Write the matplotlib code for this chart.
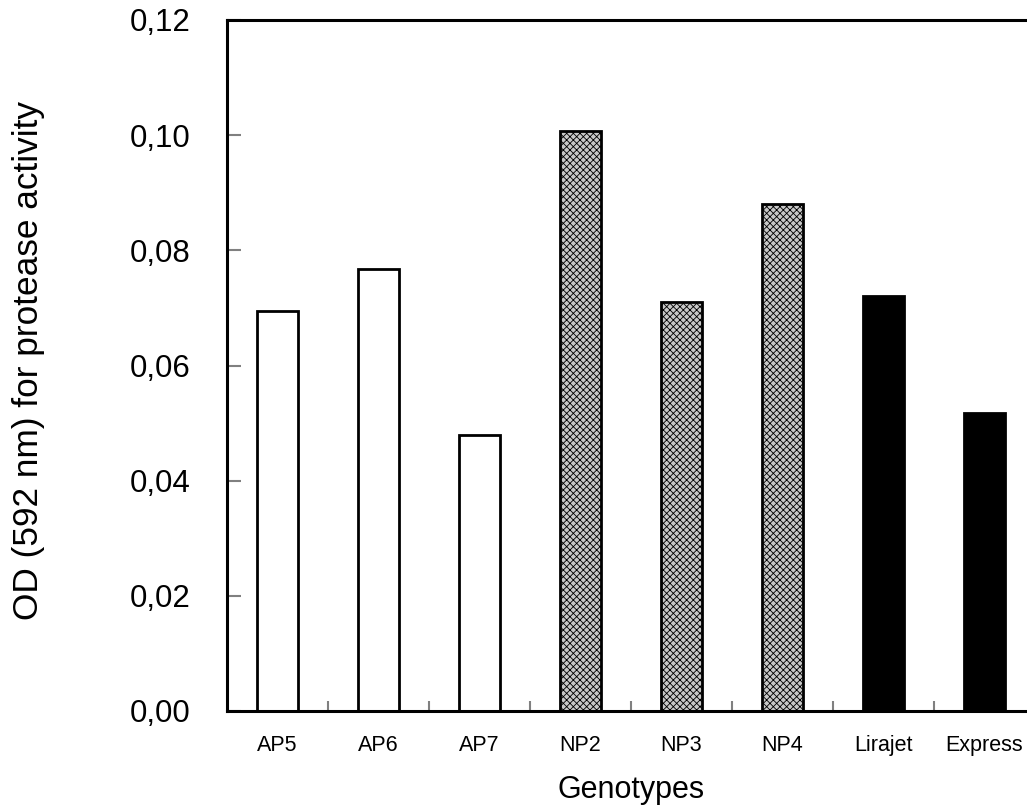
import matplotlib
matplotlib.use("Agg")
import matplotlib.pyplot as plt
from matplotlib.ticker import MultipleLocator, FixedLocator

plt.rcParams['font.family'] = ['Liberation Sans', 'DejaVu Sans']
plt.rcParams['hatch.linewidth'] = 0.6
plt.rcParams['hatch.color'] = '#505050'

genotypes = ["AP5", "AP6", "AP7", "NP2", "NP3", "NP4", "Lirajet", "Express"]
od_values = [0.0695, 0.0768, 0.0480, 0.1007, 0.0710, 0.0880, 0.0720, 0.0518]
groups = ["AP", "AP", "AP", "NP", "NP", "NP", "C", "C"]

group_style = {
    "AP": dict(facecolor="white", hatch=None),
    "NP": dict(facecolor="#c8c8c8", hatch="xxxxx"),
    "C": dict(facecolor="black", hatch=None),
}

fig = plt.figure(figsize=(10.27, 8.07), dpi=100)
ax = fig.add_axes([227 / 1027, 1 - 711 / 807, (1035 - 227) / 1027, (711 - 20) / 807])

x = list(range(len(genotypes)))
for xi, val, g in zip(x, od_values, groups):
    st = group_style[g]
    ax.bar(xi, val, width=0.4, facecolor=st["facecolor"], hatch=st["hatch"],
           edgecolor="black", linewidth=2)

ax.set_xlim(-0.5, len(genotypes) - 0.5)
ax.set_ylim(0, 0.12)

ax.yaxis.set_major_locator(MultipleLocator(0.02))
ax.set_yticklabels([f"{v:.2f}".replace(".", ",") for v in ax.get_yticks()])
ax.tick_params(axis="y", direction="in", length=10, width=1.5, color="#808080",
               labelsize=22.5, pad=26.5)

ax.set_xticks(x)
ax.set_xticklabels(genotypes)
ax.tick_params(axis="x", which="major", length=0, labelsize=15.5, pad=17)
ax.xaxis.set_minor_locator(FixedLocator([i + 0.5 for i in x[:-1]]))
ax.tick_params(axis="x", which="minor", direction="in", length=7, width=1.5, color="#808080")

for side in ("left", "top", "bottom"):
    ax.spines[side].set_linewidth(2.2)
    ax.spines[side].set_color("black")
ax.spines["right"].set_visible(False)

ax.set_xlabel("Genotypes", fontsize=22)
ax.xaxis.set_label_coords(0.5, -0.092)
ax.set_ylabel("OD (592 nm) for protease activity", fontsize=25.4)
ax.yaxis.set_label_coords(-(227 - 45) / 808, 0.507)

fig.savefig("out.png", dpi=100)
